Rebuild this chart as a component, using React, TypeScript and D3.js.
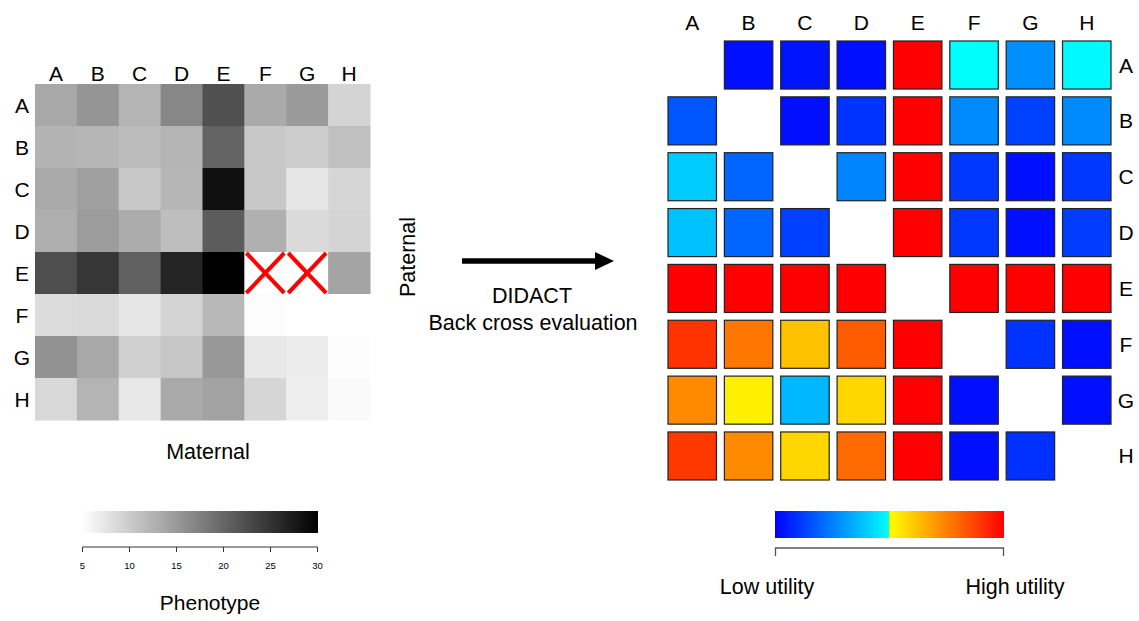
import * as d3 from "d3";

const letters = ["A", "B", "C", "D", "E", "F", "G", "H"];

// maternal x paternal phenotype (null = missing cross)
const phenotype: (number | null)[][] = [
  [13.5, 15.4, 12.4, 16.8, 22.2, 13.3, 14.9, 9.2],
  [12.5, 12.2, 11.6, 12.4, 20.2, 10.4, 10.0, 11.2],
  [13.3, 14.3, 10.4, 12.2, 28.4, 10.4, 7.5, 9.0],
  [12.9, 14.7, 13.1, 11.4, 21.0, 12.7, 8.6, 9.2],
  [22.4, 24.7, 20.6, 26.5, 30.0, null, null, 13.9],
  [8.4, 8.6, 7.5, 9.2, 12.0, 5.3, 5.0, 5.0],
  [15.7, 13.5, 9.6, 10.6, 15.1, 7.3, 6.9, 5.2],
  [8.8, 12.4, 7.3, 13.3, 14.1, 9.0, 6.7, 5.5],
];

const phenoTicks = [5, 10, 15, 20, 25, 30];

// back cross utility, 0 = low, 1 = high (null on diagonal)
const utility: (number | null)[][] = [
  [null, 0.03, 0.04, 0.03, 1.0, 0.499, 0.28, 0.49],
  [0.17, null, 0.03, 0.1, 1.0, 0.27, 0.125, 0.27],
  [0.4, 0.2, null, 0.26, 1.0, 0.11, 0.03, 0.11],
  [0.38, 0.2, 0.125, null, 1.0, 0.11, 0.03, 0.12],
  [1.0, 1.0, 1.0, 1.0, null, 1.0, 1.0, 1.0],
  [0.9, 0.767, 0.62, 0.82, 1.0, null, 0.1, 0.03],
  [0.73, 0.53, 0.36, 0.58, 1.0, 0.03, null, 0.03],
  [0.89, 0.73, 0.58, 0.79, 1.0, 0.03, 0.094, null],
];

const font = "'Liberation Sans', Arial, sans-serif";

const grey = d3.scaleLinear<string>().domain([5, 30]).range(["#ffffff", "#000000"]);
const coolScale = d3.scaleLinear<string>().domain([0, 0.5]).range(["#0000ff", "#00ffff"]);
const warmScale = d3.scaleLinear<string>().domain([0.5, 1]).range(["#ffff00", "#ff0000"]);
const utilColor = (v: number) => (v < 0.5 ? coolScale(v) : warmScale(v));

export default function App() {
  const lx = d3.scaleBand().domain(letters).range([35, 370]);
  const ly = d3.scaleBand().domain(letters).range([84, 420]);

  const rx = d3.scaleBand().domain(letters).range([668, 1111]).paddingInner(0.14);
  const ry = d3.scaleBand().domain(letters).range([41, 480]).paddingInner(0.14);

  const pScale = d3.scaleLinear().domain([5, 30]).range([82.5, 317.5]);

  return (
    <svg width={1139} height={621} style={{ position: "absolute", left: 0, top: 0 }} fontFamily={font}>
      <defs>
        <linearGradient id="greyGrad" x1="0" x2="1" y1="0" y2="0">
          <stop offset="0%" stopColor={grey(5)} />
          <stop offset="100%" stopColor={grey(30)} />
        </linearGradient>
        <linearGradient id="utilGrad" x1="0" x2="1" y1="0" y2="0">
          <stop offset="0%" stopColor={utilColor(0)} />
          <stop offset="50%" stopColor={utilColor(0.4999)} />
          <stop offset="50%" stopColor={utilColor(0.5)} />
          <stop offset="100%" stopColor={utilColor(1)} />
        </linearGradient>
      </defs>

      {/* left heatmap */}
      {phenotype.map((row, i) =>
        row.map((v, j) => {
          const x0 = lx(letters[j])!;
          const y0 = ly(letters[i])!;
          const w = lx.bandwidth();
          const h = ly.bandwidth();
          if (v === null) {
            return (
              <g key={`p${i}-${j}`}>
                <rect x={x0} y={y0} width={w} height={h} fill="#ffffff" />
                <line x1={x0 + 2} y1={y0 + 1} x2={x0 + w - 2} y2={y0 + h - 1} stroke="#ff0000" strokeWidth={4} />
                <line x1={x0 + 2} y1={y0 + h - 1} x2={x0 + w - 2} y2={y0 + 1} stroke="#ff0000" strokeWidth={4} />
              </g>
            );
          }
          return <rect key={`p${i}-${j}`} x={x0} y={y0} width={w + 0.5} height={h + 0.5} fill={grey(v)} />;
        })
      )}
      {letters.map((l) => (
        <text key={`lc${l}`} x={lx(l)! + lx.bandwidth() / 2} y={80.5} fontSize={21} textAnchor="middle">
          {l}
        </text>
      ))}
      {letters.map((l) => (
        <text key={`lr${l}`} x={22} y={ly(l)! + ly.bandwidth() / 2 + 7.5} fontSize={21} textAnchor="middle">
          {l}
        </text>
      ))}
      <text x={208} y={459} fontSize={21.5} textAnchor="middle">
        Maternal
      </text>

      {/* phenotype colour bar */}
      <rect x={82} y={511} width={236} height={22} fill="url(#greyGrad)" />
      <line x1={pScale(5)} x2={pScale(30)} y1={547} y2={547} stroke="#333" strokeWidth={1} />
      {phenoTicks.map((t) => (
        <g key={`pt${t}`}>
          <line x1={pScale(t)} x2={pScale(t)} y1={547} y2={552} stroke="#333" strokeWidth={1} />
          <text x={pScale(t)} y={568.5} fontSize={9.5} textAnchor="middle">
            {t}
          </text>
        </g>
      ))}
      <text x={210} y={610} fontSize={21} textAnchor="middle">
        Phenotype
      </text>

      {/* arrow and labels */}
      <text transform="translate(414.5,257) rotate(-90)" fontSize={21.5} textAnchor="middle">
        Paternal
      </text>
      <line x1={462} x2={598} y1={261} y2={261} stroke="#000" strokeWidth={5.5} />
      <polygon points="595,252 614,261 595,270" fill="#000" />
      <text x={532} y={303} fontSize={21.5} textAnchor="middle">
        DIDACT
      </text>
      <text x={533} y={329.5} fontSize={21.5} textAnchor="middle">
        Back cross evaluation
      </text>

      {/* right heatmap */}
      {utility.map((row, i) =>
        row.map((v, j) =>
          v === null ? null : (
            <rect
              key={`u${i}-${j}`}
              x={rx(letters[j])}
              y={ry(letters[i])}
              width={rx.bandwidth()}
              height={ry.bandwidth()}
              fill={utilColor(v)}
              stroke="#222"
              strokeWidth={1.2}
            />
          )
        )
      )}
      {letters.map((l) => (
        <text key={`rc${l}`} x={rx(l)! + rx.bandwidth() / 2} y={30} fontSize={21} textAnchor="middle">
          {l}
        </text>
      ))}
      {letters.map((l) => (
        <text key={`rr${l}`} x={1126} y={ry(l)! + ry.bandwidth() / 2 + 7.5} fontSize={21} textAnchor="middle">
          {l}
        </text>
      ))}

      {/* utility colour bar */}
      <rect x={775} y={511} width={229} height={27} fill="url(#utilGrad)" />
      <path d="M775.5,556V548H1003.5V556" fill="none" stroke="#555" strokeWidth={1.3} />
      <text x={767} y={594} fontSize={21.5} textAnchor="middle">
        Low utility
      </text>
      <text x={1015} y={594} fontSize={21.5} textAnchor="middle">
        High utility
      </text>
    </svg>
  );
}
